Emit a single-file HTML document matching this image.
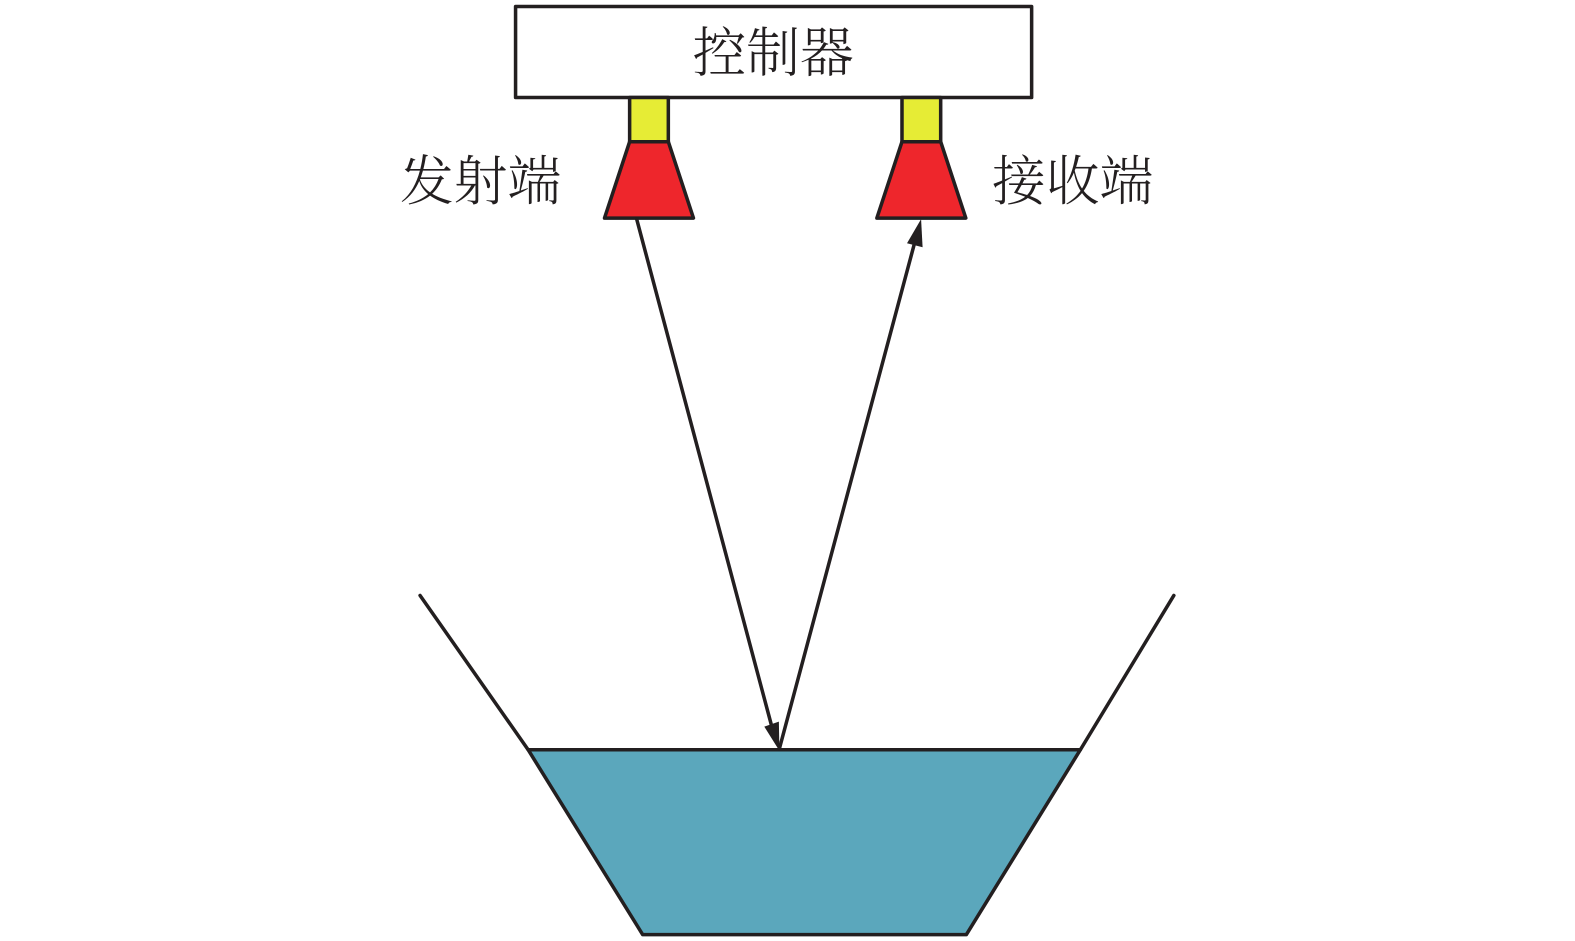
<!DOCTYPE html>
<html>
<head>
<meta charset="utf-8">
<style>
html,body{margin:0;padding:0;background:#fff;width:1575px;height:941px;overflow:hidden}
svg{display:block}
text{font-family:"Liberation Serif","Noto Serif CJK SC",serif;font-size:53.5px;fill:#231f20;font-weight:300}
</style>
</head>
<body>
<svg width="1575" height="941" viewBox="0 0 1575 941" xmlns="http://www.w3.org/2000/svg">
<g transform="translate(-0.5,0) scale(1.005)">
<g stroke="#231f20" stroke-width="3.5" stroke-linejoin="round" stroke-linecap="round">
<rect x="513.5" y="6.5" width="513.5" height="90.5" fill="#fff"/>
<rect x="627" y="97" width="38.5" height="44" fill="#e6ec35"/>
<rect x="898" y="97" width="38.5" height="44" fill="#e6ec35"/>
<polygon points="627,141 665.5,141 690.5,217 602,217" fill="#ee262c"/>
<polygon points="898,141 936.5,141 961.5,217 873,217" fill="#ee262c"/>
<polygon points="526,746 1075.5,746 962,930 640,930" fill="#5ba7bc"/>
<line x1="418.5" y1="592.5" x2="526" y2="746" fill="none"/>
<line x1="1168.5" y1="592.5" x2="1075.5" y2="746" fill="none"/>
<line x1="634" y1="218" x2="769" y2="725" fill="none"/>
<line x1="776" y1="745" x2="911" y2="240" fill="none"/>
</g>
<polygon points="776,747 761,723 775.5,718" fill="#231f20"/>
<polygon points="917,218 903,242 918.5,246" fill="#231f20"/>
<text x="689.5" y="71">控制器</text>
<text x="398.5" y="199">发射端</text>
<text x="987.5" y="199">接收端</text>
</g>
</svg>
</body>
</html>
